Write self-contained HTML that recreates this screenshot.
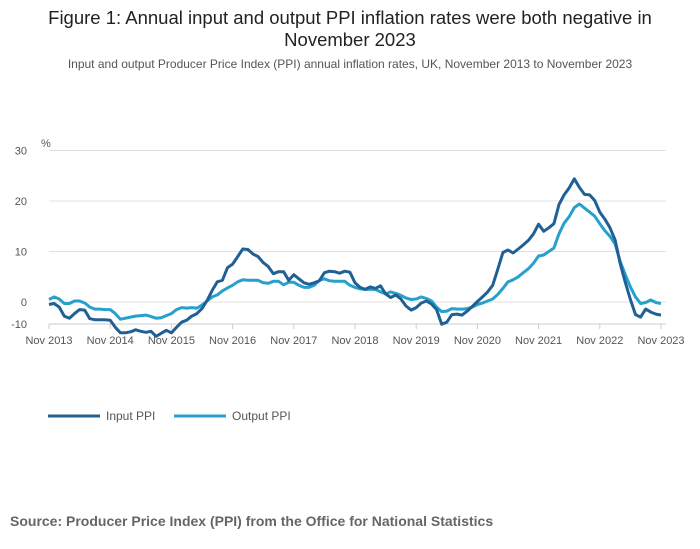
<!DOCTYPE html>
<html><head><meta charset="utf-8"><style>
body{margin:0;background:#fff;font-family:"Liberation Sans",sans-serif;}
#wrap{position:relative;width:700px;height:549px;overflow:hidden}
.t{position:absolute;left:0;width:700px;text-align:center}
</style></head><body>
<div id="wrap">
<div class="t" style="top:7px;font-size:18.5px;color:#222;line-height:22px">Figure 1: Annual input and output PPI inflation rates were both negative in<br>November 2023</div>
<div class="t" style="top:57px;font-size:12px;color:#555">Input and output Producer Price Index (PPI) annual inflation rates, UK, November 2013 to November 2023</div>
<svg id="c" width="700" height="549" style="position:absolute;left:0;top:0"></svg>
<div style="position:absolute;left:10px;top:513px;font-size:14px;font-weight:bold;color:#666">Source: Producer Price Index (PPI) from the Office for National Statistics</div>
</div>
<script>
const yTicks=[30,20,10,0,-10];
const xLabels=["Nov 2013","Nov 2014","Nov 2015","Nov 2016","Nov 2017","Nov 2018","Nov 2019","Nov 2020","Nov 2021","Nov 2022","Nov 2023"];
const inputPPI=[-0.5,-0.3,-1,-2.8,-3.2,-2.3,-1.5,-1.6,-3.3,-3.5,-3.5,-3.5,-3.6,-5,-6.1,-6.1,-5.9,-5.5,-5.8,-6,-5.8,-6.8,-6.2,-5.6,-6.1,-5,-4,-3.6,-2.8,-2.3,-1.3,0.3,2.3,4,4.3,6.8,7.5,9,10.5,10.4,9.5,9,7.8,7,5.6,6,6,4.3,5.4,4.6,3.8,3.5,3.8,4.2,5.8,6.1,6,5.7,6.1,5.9,3.8,2.9,2.5,3,2.7,3.2,1.6,0.9,1.4,0.6,-0.8,-1.6,-1.1,-0.2,0.2,-0.4,-1.5,-4.4,-4,-2.5,-2.4,-2.6,-1.8,-0.9,0.1,1,2,3.3,6.5,9.8,10.3,9.7,10.5,11.3,12.2,13.5,15.4,14,14.7,15.5,19.3,21.2,22.6,24.4,22.7,21.3,21.2,20.1,17.8,16.4,14.7,12.3,7.6,3.9,0.5,-2.5,-3,-1.4,-2,-2.4,-2.6];
const outputPPI=[0.5,1,0.6,-0.3,-0.3,0.2,0.2,-0.2,-1,-1.4,-1.4,-1.5,-1.5,-2.3,-3.4,-3.2,-3,-2.8,-2.7,-2.6,-2.9,-3.2,-3.1,-2.7,-2.3,-1.5,-1.1,-1.2,-1.1,-1.2,-0.6,0.2,1,1.4,2.2,2.8,3.3,4,4.4,4.3,4.3,4.3,3.8,3.7,4.1,4.1,3.4,3.9,3.9,3.3,2.9,2.9,3.3,4.3,4.6,4.2,4.1,4.1,4.1,3.3,2.9,2.6,2.5,2.5,2.5,2,1.6,2,1.7,1.3,0.8,0.5,0.6,1,0.7,0.2,-1,-1.9,-1.8,-1.3,-1.4,-1.4,-1.3,-1,-0.5,-0.2,0.2,0.6,1.5,2.7,4,4.4,5,5.8,6.6,7.7,9.1,9.3,10,10.7,13.5,15.6,16.9,18.7,19.4,18.6,17.8,17,15.5,14.1,13,11.5,8,5.4,3,1,-0.3,-0.1,0.4,-0.1,-0.3];
const svg=document.getElementById('c');const NS="http://www.w3.org/2000/svg";
const X0=49,X1=661,YZ=302,K=5.05,YB=324;
const x=i=>X0+(X1-X0)*i/120;
const y=v=>YZ-v*K;
const yt=v=>Math.min(y(v),YB);
function mk(t,a){const e=document.createElementNS(NS,t);for(const k in a)e.setAttribute(k,a[k]);svg.appendChild(e);return e;}
yTicks.forEach(v=>{
 const g=mk('line',{x1:X0,x2:666,y1:yt(v),y2:yt(v),stroke:'#e0e0e0','stroke-width':1});
 
 
 const t=mk('text',{x:27,y:yt(v)+4,'text-anchor':'end','font-size':11,fill:'#555','font-family':'Liberation Sans, sans-serif'});t.textContent=v;
 
 
});
const pct=mk('text',{x:41,y:147,'font-size':11,fill:'#555','font-family':'Liberation Sans, sans-serif'});pct.textContent='%';


const ax=mk('line',{x1:X0,x2:666,y1:YB,y2:YB,stroke:'#ccc'});


xLabels.forEach((l,i)=>{
 const xx=x(i*12);
 const tk=mk('line',{x1:xx,x2:xx,y1:YB,y2:YB+5,stroke:'#ccc'});
 
 
 const t=mk('text',{x:xx,y:344,'text-anchor':'middle','font-size':11,fill:'#555','font-family':'Liberation Sans, sans-serif'});t.textContent=l;
 
 
});
function line(arr,col,name){
 const p=mk('path',{d:arr.map((v,i)=>(i?'L':'M')+x(i).toFixed(1)+','+y(v).toFixed(1)).join(''),fill:'none',stroke:col,'stroke-width':3,'stroke-linejoin':'round'});
 
 
}
line(outputPPI,'#27a0cc','output-ppi-line');
line(inputPPI,'#206095','input-ppi-line');
[[48,'#206095','Input PPI','legend-input-ppi'],[174,'#27a0cc','Output PPI','legend-output-ppi']].forEach(([lx,c,l,n])=>{
 const s=mk('line',{x1:lx,x2:lx+52,y1:416,y2:416,stroke:c,'stroke-width':3});
 
 
 const t=mk('text',{x:lx+58,y:420,'font-size':12,fill:'#555','font-family':'Liberation Sans, sans-serif'});t.textContent=l;
 
 
});
</script>
</body></html>
